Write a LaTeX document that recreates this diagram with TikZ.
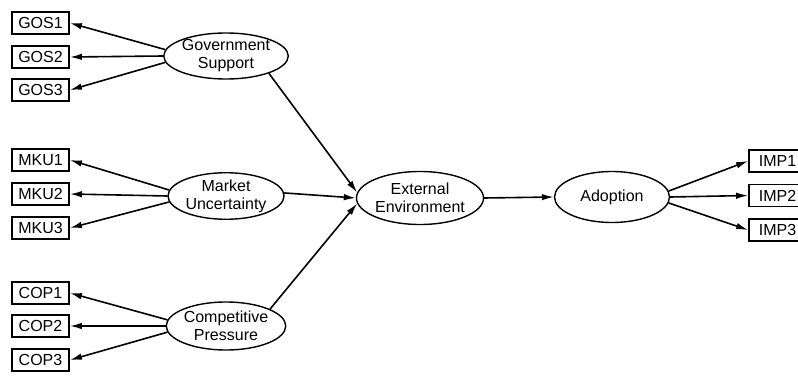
\documentclass[tikz,border=0pt]{standalone}
\usepackage{fontspec}
\setmainfont{Liberation Sans}
\usetikzlibrary{shapes.geometric,arrows.meta}
\begin{document}
\begin{tikzpicture}[x=1pt,y=-1pt,
  every node/.style={font=\fontsize{16}{18}\selectfont},
  ind/.style={draw,line width=1.8pt,rectangle,minimum width=57pt,minimum height=22pt,inner sep=0pt},
  lat/.style={draw,line width=1.4pt,ellipse,inner sep=0pt,align=center},
  arr/.style={line width=1.6pt,-{Latex[length=12pt,width=6.5pt]}}]
\useasboundingbox (0,0) rectangle (798,377);
% latent variables
\node[lat,minimum width=118pt,minimum height=46pt] (gs) at (226,56) {Government\\Support};
\node[lat,minimum width=116pt,minimum height=46pt] (mu) at (226,196) {Market\\Uncertainty};
\node[lat,minimum width=118pt,minimum height=48pt] (cp) at (226,326) {Competitive\\Pressure};
\node[lat,minimum width=114pt,minimum height=53pt] (ee) at (420,198) {External\\Environment};
\node[lat,minimum width=115pt,minimum height=51pt] (ad) at (612,197) {Adoption};
% indicators
\node[ind] (g1) at (40.5,23) {GOS1};
\node[ind] (g2) at (40.5,57) {GOS2};
\node[ind] (g3) at (40.5,90) {GOS3};
\node[ind] (m1) at (40.5,160) {MKU1};
\node[ind] (m2) at (40.5,194) {MKU2};
\node[ind] (m3) at (40.5,228) {MKU3};
\node[ind] (c1) at (40.5,293) {COP1};
\node[ind] (c2) at (40.5,326) {COP2};
\node[ind] (c3) at (40.5,360) {COP3};
\node[ind] (i1) at (777.5,161) {IMP1};
\node[ind] (i2) at (777.5,195.5) {IMP2};
\node[ind] (i3) at (777.5,230) {IMP3};
% loadings
\draw[arr] (gs.174) -- (g1.east);
\draw[arr] (gs.180) -- (g2.east);
\draw[arr] (gs.186) -- (g3.east);
\draw[arr] (mu.174) -- (m1.east);
\draw[arr] (mu.180) -- (m2.east);
\draw[arr] (mu.186) -- (m3.east);
\draw[arr] (cp.174) -- (c1.east);
\draw[arr] (cp.180) -- (c2.east);
\draw[arr] (cp.186) -- (c3.east);
\draw[arr] (ad.6) -- (i1.west);
\draw[arr] (ad.0) -- (i2.west);
\draw[arr] (ad.-6) -- (i3.west);
% structural paths
\draw[arr] (gs.-22) -- (ee.175);
\draw[arr] (mu.3) -- (ee.180);
\draw[arr] (cp.21) -- (ee.185);
\draw[arr] (ee.east) -- (ad.west);
\end{tikzpicture}
\end{document}
